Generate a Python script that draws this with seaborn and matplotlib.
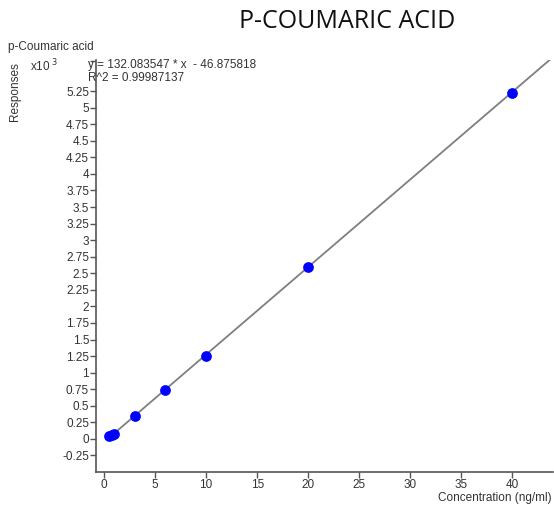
import matplotlib
matplotlib.use("Agg")
import matplotlib.pyplot as plt
import seaborn as sns
import numpy as np
import pandas as pd

# Data (responses in x10^3)
conc = [0.5, 0.8, 1.0, 3.0, 6.0, 10.0, 20.0, 40.0]
resp = [0.045, 0.06, 0.075, 0.35, 0.745, 1.255, 2.60, 5.225]
slope = 132.083547
intercept = -46.875818
line_x = [0.5, 44.0]
yticks = [-0.25, 0, 0.25, 0.5, 0.75, 1, 1.25, 1.5, 1.75, 2, 2.25, 2.5, 2.75, 3,
          3.25, 3.5, 3.75, 4, 4.25, 4.5, 4.75, 5, 5.25]
xticks = [0, 5, 10, 15, 20, 25, 30, 35, 40]

sns.set_theme(style="white")
plt.rcParams['font.family'] = ['Liberation Sans', 'DejaVu Sans']

fig = plt.figure(figsize=(5.54, 5.08), dpi=100)
ax = fig.add_axes([96/554, 1-472/508, (553-96)/554, (472-60)/508])

df_pts = pd.DataFrame({"x": conc, "y": resp})
lx = np.array(line_x)
df_line = pd.DataFrame({"x": lx, "y": (slope*lx + intercept)/1000.0})

sns.lineplot(data=df_line, x="x", y="y", ax=ax, color="#7f7f7f", linewidth=1.3, zorder=1)
sns.scatterplot(data=df_pts, x="x", y="y", ax=ax, color="#0000ff", s=60,
                edgecolor="#0000ff", linewidth=0, zorder=3)

ax.set_xlim(-0.8, 44.0)
ax.set_ylim(-0.5, 5.72)
ax.set_xticks(xticks)
ax.set_xticklabels([str(t) for t in xticks])
ax.set_yticks(yticks)
ax.set_yticklabels([("%g" % t) for t in yticks])
ax.set_yticks([5.71], minor=True)
ax.set_xlabel("")
ax.set_ylabel("")
for s in ["top", "right"]:
    ax.spines[s].set_visible(False)
for s in ["left", "bottom"]:
    ax.spines[s].set_color("#555555")
    ax.spines[s].set_linewidth(1.2)
ax.tick_params(axis="both", which="both", direction="out", length=4, width=1,
               color="#555555", labelsize=8.5, labelcolor="#333333", pad=1,
               left=True, bottom=True)

fig.text(347/554, 1-22/508, "P-COUMARIC ACID", fontsize=18, ha="center", va="center",
         color="#111111", family=["Open Sans", "DejaVu Sans"])
fig.text(8/554, 1-47/508, "p-Coumaric acid", fontsize=8.5, ha="left", va="center", color="#333333")
fig.text(30/554, 1-66/508, r"x10$^{\ 3}$", fontsize=8.5, ha="left", va="center", color="#333333")
fig.text(88/554, 1-65/508, "y = 132.083547 * x  - 46.875818", fontsize=8.5, ha="left",
         va="center", color="#333333")
fig.text(88/554, 1-78/508, "R^2 = 0.99987137", fontsize=8.5, ha="left", va="center", color="#333333")
fig.text(15/554, 1-92/508, "Responses", fontsize=8.5, rotation=90, ha="center", va="center",
         color="#333333")
fig.text(552/554, 1-498/508, "Concentration (ng/ml)", fontsize=8.5, ha="right", va="center",
         color="#333333")

fig.savefig("out.png", dpi=100)
